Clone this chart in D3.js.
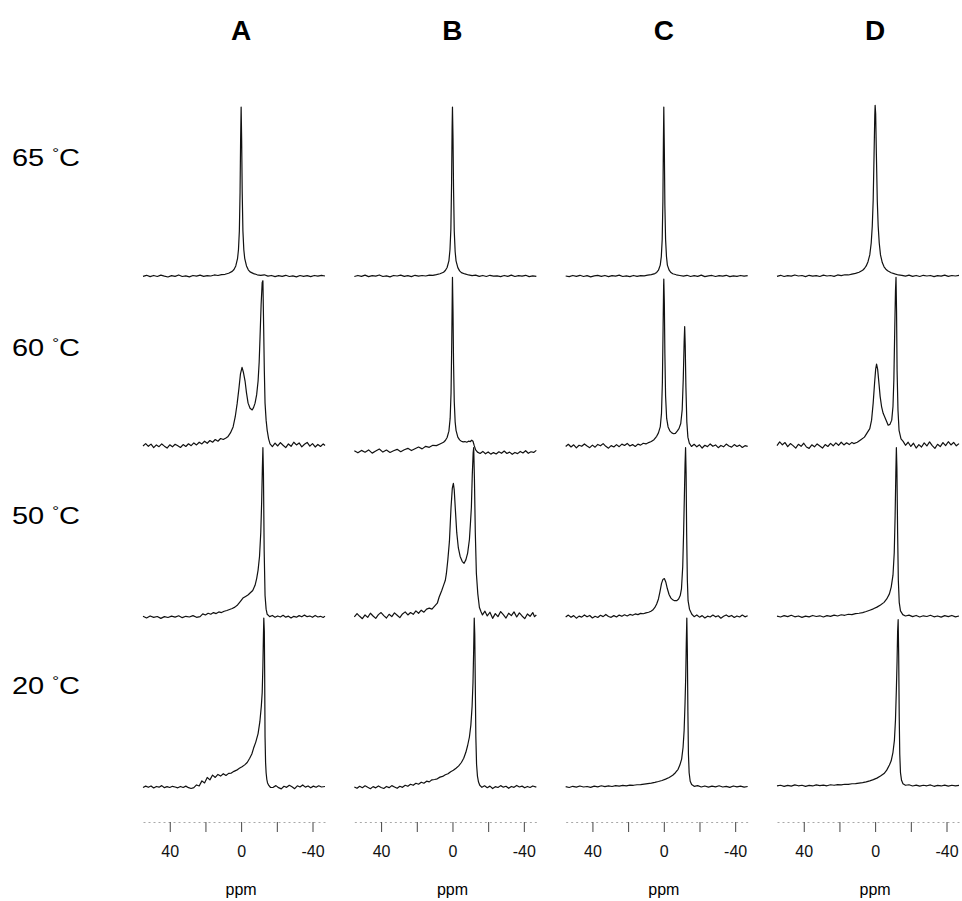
<!DOCTYPE html>
<html>
<head>
<meta charset="utf-8">
<script src="https://cdn.jsdelivr.net/npm/d3@7"></script>
<style>
  body { margin: 0; background: #fff; }
  svg { display: block; }
</style>
</head>
<body>
<div id="chart"></div>
<script>
// panels and temperatures
const panels = ["A", "B", "C", "D"];
const temps = ["65", "60", "50", "20"];
const tickVals = [40, 20, 0, -20, -40];
const tickLabels = [40, 0, -40];

// spectra: [ppm, intensity]  (100 = tallest peak)
const specA65 = [[55,0.4],[53,1.0],[51,0.2],[49,0.9],[47,0.3],[45,1.1],[43,0.5],[41,0.0],[39,0.8],[37,0.4],[35,1.2],[33,0.3],[31,0.7],[29,0.1],[27,0.9],[25,0.5],[23,1.1],[21,0.4],[19,0.8],[17,0.6],[15,1.2],[13,0.9],[11,1.4],[9,1.6],[7,2.2],[5,3.3],[4,4.4],[3,6.5],[2,11],[1.5,16],[1,27],[0.6,50],[0.3,80],[0,100],[-0.3,80],[-0.6,50],[-1,27],[-1.5,16],[-2,11],[-3,6.5],[-4,4.2],[-5,3.0],[-7,2.0],[-9,1.3],[-11,1.0],[-13,1.3],[-15,0.5],[-17,0.9],[-19,0.2],[-21,0.8],[-23,0.4],[-25,1.0],[-27,0.3],[-29,0.7],[-31,0.1],[-33,0.9],[-35,0.4],[-37,0.8],[-39,0.2],[-41,0.9],[-43,0.5],[-45,1.0],[-47,0.6]];
const specB65 = [[55,0.3],[53,0.9],[51,0.4],[49,1.1],[47,0.2],[45,0.8],[43,0.5],[41,1.2],[39,0.3],[37,0.7],[35,0.1],[33,0.9],[31,0.6],[29,1.1],[27,0.4],[25,0.8],[23,0.2],[21,1.0],[19,0.5],[17,0.9],[15,0.6],[13,1.1],[11,1.0],[9,1.4],[7,1.9],[5,2.8],[4,3.8],[3,5.6],[2,9.5],[1.4,16],[0.9,28],[0.5,55],[0.2,88],[0,100],[-0.3,82],[-0.6,52],[-1,27],[-1.5,15],[-2,9.5],[-3,5.5],[-4,3.6],[-5,2.6],[-7,1.8],[-9,1.2],[-11,0.8],[-13,1.1],[-15,0.4],[-17,0.9],[-19,0.3],[-21,1.0],[-23,0.5],[-25,0.7],[-27,0.2],[-29,0.9],[-31,0.4],[-33,1.1],[-35,0.3],[-37,0.8],[-39,0.5],[-41,1.0],[-43,0.2],[-45,0.7],[-47,0.4]];
const specC65 = [[55,0.6],[53,0.2],[51,0.9],[49,0.4],[47,1.0],[45,0.3],[43,0.8],[41,0.1],[39,0.7],[37,1.0],[35,0.4],[33,0.9],[31,0.2],[29,0.8],[27,0.5],[25,1.1],[23,0.3],[21,0.7],[19,0.2],[17,0.9],[15,0.4],[13,0.8],[11,0.7],[9,1.1],[7,1.4],[5,2.0],[4,2.7],[3,4.0],[2,7],[1.4,12],[0.9,22],[0.5,45],[0.2,82],[0,100],[-0.3,75],[-0.6,42],[-1,22],[-1.5,12],[-2,7],[-3,4],[-4,2.6],[-5,1.9],[-7,1.3],[-9,0.9],[-11,0.5],[-13,1.0],[-15,0.3],[-17,0.8],[-19,0.4],[-21,1.1],[-23,0.2],[-25,0.7],[-27,0.9],[-29,0.3],[-31,0.8],[-33,0.5],[-35,1.0],[-37,0.2],[-39,0.7],[-41,0.4],[-43,0.9],[-45,0.5],[-47,0.8]];
const specD65 = [[55,0.4],[53,1.0],[51,0.3],[49,0.8],[47,0.5],[45,1.2],[43,0.6],[41,0.9],[39,0.2],[37,1.0],[35,0.5],[33,0.8],[31,0.3],[29,1.1],[27,0.6],[25,0.9],[23,0.4],[21,1.2],[19,0.8],[17,1.3],[15,1.2],[13,1.7],[11,2.1],[9,2.8],[7,4],[6,5],[5,6.5],[4,9],[3,13],[2.2,20],[1.6,30],[1.1,45],[0.6,72],[0.2,95],[0,101],[-0.3,96],[-0.7,72],[-1.2,45],[-1.7,30],[-2.3,20],[-3,13],[-4,8.5],[-5,6],[-6,4.6],[-7,3.7],[-9,2.5],[-11,1.8],[-13,1.2],[-15,1.0],[-17,0.5],[-19,1.1],[-21,0.4],[-23,0.9],[-25,0.3],[-27,1.0],[-29,0.6],[-31,0.9],[-33,0.2],[-35,0.8],[-37,0.5],[-39,1.1],[-41,0.4],[-43,0.9],[-45,0.6],[-47,1.0]];

const specA60 = [[55,0.8],[53.5,2.2],[52,0.6],[50.5,1.9],[49,-0.2],[47.5,1.4],[46,0.4],[44.5,2.0],[43,0.7],[41.5,-0.4],[40,1.5],[38.5,0.3],[37,1.8],[35.5,0.9],[34,-0.1],[32.5,1.6],[31,0.5],[29.5,2.1],[28,1.0],[26.5,2.6],[25,1.4],[23.5,3.0],[22,2.0],[20.5,3.6],[19,2.4],[17.5,4.0],[16,3.0],[14.5,4.6],[13,3.6],[11.5,5.2],[10,4.6],[8.5,5.5],[7.5,6.2],[6,8.5],[4.5,12],[3.3,18],[2.2,26],[1.2,35],[0.4,43],[-0.5,47],[-1.3,44],[-2.2,39],[-3,32],[-3.9,26],[-5,23],[-6.2,22],[-7,23.5],[-7.8,26],[-8.7,31],[-9.5,39],[-10.1,50],[-10.6,65],[-11.2,84],[-11.8,97],[-12.2,98],[-12.6,72],[-13,45],[-13.4,26],[-14,16],[-14.6,10],[-15.4,5],[-16.2,2],[-17.5,0.4],[-19,2.5],[-20.5,0.8],[-22,2.8],[-23.5,1.2],[-25,-0.2],[-26.5,2.0],[-28,0.6],[-29.5,3.0],[-31,1.4],[-32.5,2.6],[-34,0.3],[-35.5,1.8],[-37,2.9],[-38.5,0.7],[-40,2.2],[-41.5,0.2],[-43,1.7],[-44.5,0.5],[-46,2.0],[-47,1.1]];
const specB60 = [[55,-2.0],[53,-3.2],[51,-1.8],[49,-2.9],[47,-1.5],[45,-3.4],[43,-2.2],[41,-1.0],[39,-2.8],[37,-1.6],[35,-3.0],[33,-2.0],[31,-1.2],[29,-2.6],[27,-1.4],[25,-0.6],[23,-1.9],[21,-0.8],[19,0.2],[17,-0.9],[15,0.6],[13,0.0],[11,1.2],[9,1.0],[7,2.0],[5,3.0],[4,4.0],[3,5.8],[2,9.5],[1.3,17],[0.8,32],[0.4,62],[0.1,92],[0,100],[-0.3,80],[-0.6,50],[-1,27],[-1.5,15],[-2,10],[-3,6],[-4,4.4],[-5,3.6],[-6,3.2],[-7,3.4],[-8,3.0],[-9,3.6],[-10,3.4],[-10.8,4.2],[-11.5,3.6],[-12.2,1.0],[-13,-1.5],[-14,-2.8],[-15.5,-3.6],[-17,-2.4],[-18.5,-3.8],[-20,-2.7],[-21.5,-4.0],[-23,-3.1],[-24.5,-3.9],[-26,-2.6],[-27.5,-3.5],[-29,-2.2],[-30.5,-3.6],[-32,-2.8],[-33.5,-4.1],[-35,-3.0],[-36.5,-3.7],[-38,-2.4],[-39.5,-3.3],[-41,-2.0],[-42.5,-3.5],[-44,-2.6],[-45.5,-3.0],[-47,-1.8]];
const specC60 = [[55,0.5],[53.5,1.8],[52,0.2],[50.5,1.5],[49,-0.3],[47.5,1.2],[46,0.6],[44.5,2.0],[43,0.8],[41.5,-0.2],[40,1.3],[38.5,0.1],[37,1.7],[35.5,0.9],[34,2.2],[32.5,0.6],[31,-0.5],[29.5,1.0],[28,0.2],[26.5,1.6],[25,0.4],[23.5,1.9],[22,1.1],[20.5,2.3],[19,0.8],[17.5,1.6],[16,0.5],[14.5,1.9],[13,1.3],[11.5,2.4],[10,2.0],[8.5,2.8],[7,3.4],[5.5,4.5],[4,6.5],[3,8.5],[2,12],[1.3,20],[0.8,38],[0.4,70],[0.1,95],[0,99],[-0.3,85],[-0.6,55],[-1,30],[-1.6,17],[-2.4,12],[-3.5,9.5],[-4.5,8.5],[-5.5,8],[-6.5,8.2],[-7.5,9.5],[-8.5,11],[-9.5,14],[-10.3,22],[-10.9,40],[-11.4,62],[-11.7,71],[-12,60],[-12.4,35],[-12.9,15],[-13.5,6],[-14.3,2.5],[-15.5,0.5],[-17,1.8],[-18.5,0.3],[-20,1.5],[-21.5,-0.4],[-23,1.2],[-24.5,0.4],[-26,2.0],[-27.5,0.6],[-29,1.4],[-30.5,-0.2],[-32,1.1],[-33.5,0.3],[-35,1.9],[-36.5,0.8],[-38,0.1],[-39.5,1.6],[-41,0.5],[-42.5,1.3],[-44,-0.1],[-45.5,1.0],[-47,0.6]];
const specD60 = [[55,1.0],[53.5,3.2],[52,1.5],[50.5,2.8],[49,0.4],[47.5,2.2],[46,1.0],[44.5,-0.5],[43,1.8],[41.5,0.6],[40,2.4],[38.5,0.2],[37,-0.6],[35.5,1.5],[34,0.3],[32.5,2.0],[31,0.8],[29.5,-0.4],[28,1.6],[26.5,0.5],[25,2.3],[23.5,0.9],[22,2.6],[20.5,1.2],[19,3.0],[17.5,1.4],[16,2.7],[14.5,1.6],[13,2.9],[12,2.2],[10,3.0],[8,4.5],[6,6],[4.5,8.5],[3,11],[2,16],[1.1,26],[0.3,38],[-0.3,46],[-0.8,49],[-1.4,46],[-2.2,37],[-2.8,30],[-3.6,24],[-4.5,20],[-5.5,17.5],[-6.5,15],[-7.3,13],[-8.3,13.5],[-9.3,16],[-10,24],[-10.5,40],[-11,70],[-11.4,92],[-11.7,100],[-12,80],[-12.3,45],[-12.8,22],[-13.4,10],[-14.5,5],[-15.7,3.5],[-17,1.2],[-18.5,3.0],[-20,0.5],[-21.5,2.4],[-23,-0.4],[-24.5,1.6],[-26,0.2],[-27.5,2.6],[-29,0.8],[-30.5,3.2],[-32,1.0],[-33.5,-0.6],[-35,1.8],[-36.5,0.4],[-38,2.8],[-39.5,1.0],[-41,3.3],[-42.5,1.4],[-44,2.9],[-45.5,0.9],[-47,2.2]];

const specA50 = [[55,0.8],[53,-0.2],[51,1.0],[49,0.2],[47,0.7],[45,-0.4],[43,0.6],[41,0.1],[39,0.9],[37,0.3],[35,1.1],[33,0.0],[31,0.8],[29,0.4],[27,1.2],[25,0.2],[23,0.6],[21.5,2.2],[20,1.6],[18.5,2.6],[17,2.0],[15.5,3.0],[14,2.4],[12.5,3.4],[11,3.0],[9.5,3.8],[8,4.2],[6.5,4.8],[5,5.4],[3.5,6.2],[2,7.5],[0.5,9.5],[-1,11.5],[-2.5,12.5],[-4,13.5],[-5,14.5],[-6.5,16],[-7.8,19],[-8.7,23],[-9.5,28],[-10.3,36],[-11,50],[-11.5,68],[-11.9,88],[-12.2,100],[-12.5,85],[-12.9,40],[-13.4,13],[-14,5],[-14.6,2],[-16,0.6],[-17.5,1.3],[-19,0.2],[-20.5,1.0],[-22,0.4],[-23.5,1.4],[-25,0.3],[-26.5,0.9],[-28,-0.2],[-29.5,0.8],[-31,0.3],[-32.5,1.2],[-34,0.5],[-35.5,1.5],[-37,0.6],[-38.5,1.0],[-40,0.2],[-41.5,1.3],[-43,0.4],[-44.5,0.8],[-46,0.1],[-47,0.9]];
const specB50 = [[55,0.5],[53.5,2.4],[52,0.8],[50.5,-0.6],[49,1.6],[47.5,0.2],[46,2.6],[44.5,1.0],[43,-0.4],[41.5,1.8],[40,3.0],[38.5,1.2],[37,-0.2],[35.5,2.0],[34,0.6],[32.5,2.8],[31,1.4],[29.5,0.0],[28,2.2],[26.5,3.4],[25,1.6],[23.5,3.0],[22,2.0],[20.5,4.0],[19,2.6],[17.5,4.4],[16,3.2],[14.5,5.0],[13,5.6],[11.5,5.0],[10,6.8],[8.5,8.5],[7.5,12],[6,16],[5,19],[4,22],[3.4,26],[2.6,34],[1.7,45],[0.8,65],[0.1,76],[-0.5,79],[-1,75],[-1.6,64],[-2.4,50],[-3.3,41],[-4.3,36],[-5.5,33],[-6.5,32],[-7.5,34],[-8.5,38],[-9.5,46],[-10.1,56],[-10.6,65],[-11.1,84],[-11.6,97],[-11.9,100],[-12.3,82],[-12.8,50],[-13.4,26],[-14.2,14],[-15.1,6],[-16,3.5],[-16.8,1.6],[-18.2,3.8],[-19.5,1.0],[-21,3.2],[-22.5,-0.4],[-24,2.4],[-25.5,0.6],[-27,3.6],[-28.5,1.8],[-30,-0.2],[-31.5,2.6],[-33,1.2],[-34.5,3.4],[-36,0.4],[-37.5,2.8],[-39,1.0],[-40.5,-0.6],[-42,2.2],[-43.5,0.8],[-45,3.0],[-46,0.6],[-47,1.6]];
const specC50 = [[55,0.4],[53.5,1.5],[52,0.2],[50.5,1.2],[49,-0.3],[47.5,0.9],[46,0.3],[44.5,1.6],[43,0.5],[41.5,1.3],[40,-0.2],[38.5,0.8],[37,0.1],[35.5,1.4],[34,0.6],[32.5,1.9],[31,0.7],[29.5,0.2],[28,1.2],[26.5,0.4],[25,1.5],[23.5,0.8],[22,1.7],[20.5,1.0],[19,1.9],[17.5,1.4],[16,2.2],[14.5,1.8],[13,2.5],[11.5,2.3],[10,2.8],[8.5,3.2],[7.2,3.8],[6.2,4.5],[5,6],[4,8],[3,11],[2.2,15],[1.3,20],[0.5,22.5],[-0.3,23],[-1.1,21],[-2,17],[-3,13.5],[-4,11.5],[-5,10.5],[-6,10],[-7.3,10],[-8.3,11],[-9.2,13],[-9.9,17],[-10.6,30],[-11.1,50],[-11.5,70],[-11.9,90],[-12.2,100],[-12.5,85],[-12.8,50],[-13.2,22],[-13.6,10],[-14.4,5],[-15.7,2],[-17,0.6],[-18.5,1.6],[-20,0.3],[-21.5,1.2],[-23,-0.2],[-24.5,0.9],[-26,0.4],[-27.5,1.5],[-29,0.5],[-30.5,1.1],[-32,-0.3],[-33.5,0.8],[-35,1.6],[-36.5,0.6],[-38,1.3],[-39.5,0.1],[-41,1.0],[-42.5,0.4],[-44,1.5],[-45.5,0.5],[-47,1.1]];
const specD50 = [[55,0.9],[53,0.4],[51,1.2],[49,0.6],[47,1.4],[45,0.5],[43,1.0],[41,0.2],[39,0.9],[37,0.5],[35,1.3],[33,0.7],[31,1.1],[29,0.4],[27,1.2],[25,0.8],[23,1.5],[21,1.0],[19,1.7],[17,1.4],[15,2.0],[13,1.8],[11,2.4],[9,2.6],[7,3.0],[5,3.6],[3,4.4],[1,5.2],[-1,6.2],[-3,7.5],[-5,9],[-6.5,11],[-8,14],[-9,18],[-10,25],[-10.7,38],[-11.2,60],[-11.6,85],[-11.9,100],[-12.2,88],[-12.6,50],[-13,22],[-13.5,9],[-14.2,4],[-15.5,1.8],[-17,1.0],[-19,1.5],[-21,0.6],[-23,1.3],[-25,0.4],[-27,1.1],[-29,0.7],[-31,1.4],[-33,0.5],[-35,1.0],[-37,0.3],[-39,1.2],[-41,0.6],[-43,1.3],[-45,0.5],[-47,1.0]];

const specA20 = [[55,0.3],[53.5,1.1],[52,0.4],[50.5,1.2],[49,0.0],[47.5,0.9],[46,0.5],[44.5,1.4],[43,0.2],[41.5,0.8],[40,0.3],[38.5,1.0],[37,0.6],[35.5,0.1],[34,0.9],[32.5,0.3],[31,1.1],[29.5,0.2],[28,-0.3],[26.5,0.2],[25,1.8],[23.5,1.2],[22,4.2],[20.5,3.0],[19,6.2],[17.5,4.8],[16,7.6],[14.5,6.2],[13,8.0],[11.5,7.0],[10,8.4],[8.5,7.4],[7,8.6],[5.5,8.8],[4,9.8],[2.5,10.5],[1,11.6],[-0.5,12.5],[-2,13.6],[-3.4,15],[-4.8,17.5],[-6,20],[-7,23.5],[-8.2,27],[-9.5,32],[-10.5,39],[-11.3,48],[-11.8,56],[-12.2,72],[-12.5,90],[-12.7,100],[-13,92],[-13.2,65],[-13.4,30],[-13.7,15],[-14,9],[-14.4,5],[-14.8,3],[-15.5,1.5],[-16.5,0.3],[-18,0.4],[-19.5,1.4],[-21,0.2],[-22.5,-0.5],[-24,1.0],[-25.5,0.4],[-27,1.6],[-28.5,0.7],[-30,-0.4],[-31.5,1.3],[-33,0.6],[-34.5,1.8],[-36,0.5],[-37.5,1.2],[-39,0.1],[-40.5,1.1],[-42,0.4],[-43.5,1.3],[-45,0.6],[-47,0.9]];
const specB20 = [[55,0.6],[53.5,-0.2],[52,1.0],[50.5,0.2],[49,1.3],[47.5,0.4],[46,-0.4],[44.5,0.8],[43,0.1],[41.5,1.2],[40,0.3],[38.5,-0.3],[37,0.9],[35.5,0.2],[34,1.4],[32.5,0.6],[31,-0.2],[29.5,1.0],[28,0.4],[26.5,1.6],[25,1.0],[23.5,2.2],[22,1.6],[20.5,2.8],[19,2.2],[17.5,3.4],[16,2.8],[14.5,4.0],[13,3.6],[11.5,4.8],[10,5.0],[8.5,5.4],[7,6.4],[5.5,6.8],[4,7.8],[2.5,8.4],[1,9.6],[-0.5,10.4],[-2,11.6],[-3.5,13],[-5,15],[-6.3,17.5],[-7.5,21],[-8.5,25],[-9.5,30],[-10.3,37],[-11,48],[-11.5,62],[-11.9,82],[-12.2,100],[-12.5,90],[-12.8,60],[-13.1,30],[-13.5,14],[-14,7],[-14.6,3.5],[-15.3,1.6],[-16.5,0.4],[-18,1.3],[-19.5,0.2],[-21,1.1],[-22.5,-0.3],[-24,0.8],[-25.5,0.3],[-27,1.4],[-28.5,0.5],[-30,1.0],[-31.5,-0.2],[-33,0.9],[-34.5,0.4],[-36,1.5],[-37.5,0.6],[-39,1.1],[-40.5,0.1],[-42,0.9],[-43.5,0.3],[-45,1.2],[-47,0.5]];
const specC20 = [[55,0.8],[53,0.3],[51,1.0],[49,0.5],[47,1.2],[45,0.6],[43,0.9],[41,0.4],[39,1.1],[37,0.7],[35,1.3],[33,0.8],[31,1.2],[29,0.9],[27,1.4],[25,1.1],[23,1.5],[21,1.3],[19,1.7],[17,1.6],[15,1.9],[13,2.0],[11,2.3],[9,2.6],[7,2.9],[5,3.3],[3,3.8],[1,4.4],[-1,5.2],[-3,6.2],[-5,7.5],[-6.5,9],[-8,11],[-9,13.5],[-10,17],[-10.8,24],[-11.4,34],[-11.9,50],[-12.3,66],[-12.6,85],[-12.9,100],[-13.2,80],[-13.5,45],[-13.8,20],[-14.2,9],[-14.8,4],[-15.6,2],[-17,1.0],[-19,1.4],[-21,0.6],[-23,1.2],[-25,0.5],[-27,1.1],[-29,0.7],[-31,1.3],[-33,0.6],[-35,1.0],[-37,0.4],[-39,1.2],[-41,0.7],[-43,1.1],[-45,0.5],[-47,0.9]];
const specD20 = [[55,1.2],[53,1.6],[51,1.0],[49,1.5],[47,1.1],[45,1.8],[43,1.3],[41,1.6],[39,1.0],[37,1.5],[35,1.2],[33,1.8],[31,1.4],[29,1.7],[27,1.3],[25,1.9],[23,1.6],[21,2.0],[19,1.8],[17,2.2],[15,2.1],[13,2.5],[11,2.6],[9,2.9],[7,3.2],[5,3.6],[3,4.2],[1,4.9],[-1,5.8],[-3,7],[-5,8.5],[-6.5,10.5],[-8,13.5],[-9,16],[-10,21],[-10.8,28],[-11.4,40],[-11.9,58],[-12.3,75],[-12.6,92],[-12.9,99],[-13.2,78],[-13.5,42],[-13.8,20],[-14.2,9],[-14.8,4.5],[-15.6,2.5],[-17,1.6],[-19,1.9],[-21,1.2],[-23,1.7],[-25,1.1],[-27,1.6],[-29,1.3],[-31,1.8],[-33,1.0],[-35,1.5],[-37,1.2],[-39,1.7],[-41,1.1],[-43,1.6],[-45,1.3],[-47,1.5]];

// rows of the grid (same order as temps), columns follow panels
const spectraRows = [
  [specA65, specB65, specC65, specD65],
  [specA60, specB60, specC60, specD60],
  [specA50, specB50, specC50, specD50],
  [specA20, specB20, specC20, specD20]
];

const width = 962, height = 901;
const font = "'Liberation Sans', Arial, Helvetica, sans-serif";

const svg = d3.select("#chart")
  .append("svg")
  .attr("width", width)
  .attr("height", height);

// where each panel column and each temperature row sits
const colX = d3.scalePoint().domain(panels).range([143, 777]);
const rowY = d3.scalePoint().domain(temps).range([277, 788]);

// ppm scale inside one panel (reversed, as in NMR)
const x = d3.scaleLinear().domain([55, -47]).range([0, 182]);
// intensity scale (relative to the row baseline)
const y = d3.scaleLinear().domain([0, 100]).range([0, -170]);

const line = d3.line()
  .x(function (d) { return x(d[0]); })
  .y(function (d) { return y(d[1]); });

// draw the spectra
spectraRows.forEach(function (row, ri) {
  row.forEach(function (spec, ci) {
    svg.append("path")
      .datum(spec)
      .attr("transform", "translate(" + colX(panels[ci]) + "," + rowY(temps[ri]) + ")")
      .attr("d", line)
      .attr("fill", "none")
      .attr("stroke", "#111")
      .attr("stroke-width", 1.2)
      .attr("stroke-linejoin", "round");
  });
});

// column titles
svg.selectAll(".col-title")
  .data(panels)
  .enter().append("text")
  .attr("class", "col-title")
  .attr("x", function (d) { return colX(d) + x(0); })
  .attr("y", 40)
  .attr("text-anchor", "middle")
  .style("font-family", font)
  .style("font-weight", "bold")
  .style("font-size", "28px")
  .text(function (d) { return d; });

// temperature labels (the top one sits a bit higher in the figure)
const labelShift = [-111, -91, -94, -94];
const rowLabel = svg.selectAll(".row-label")
  .data(temps)
  .enter().append("text")
  .attr("class", "row-label")
  .attr("x", 12)
  .attr("y", function (d, i) { return rowY(d) + labelShift[i]; })
  .attr("textLength", 68)
  .attr("lengthAdjust", "spacingAndGlyphs")
  .style("font-family", font)
  .style("font-size", "24px");
rowLabel.append("tspan").text(function (d) { return d + " "; });
rowLabel.append("tspan").attr("dy", -8).style("font-size", "14px").text("°");
rowLabel.append("tspan").attr("dy", 8).text("C");

// ppm axes
panels.forEach(function (p) {
  const g = svg.append("g")
    .attr("transform", "translate(" + colX(p) + ",822)")
    .call(d3.axisBottom(x)
      .tickValues(tickVals)
      .tickFormat(function (d) { return tickLabels.indexOf(d) >= 0 ? String(d) : ""; })
      .tickSize(10)
      .tickSizeOuter(0)
      .tickPadding(14));
  g.select(".domain")
    .attr("stroke", "#a8a8a8")
    .attr("stroke-dasharray", "2,3");
  g.selectAll(".tick line").attr("stroke", "#444");
  g.selectAll(".tick text")
    .attr("fill", "#111")
    .style("font-family", font)
    .style("font-size", "16px");

  svg.append("text")
    .attr("x", colX(p) + x(0))
    .attr("y", 895)
    .attr("text-anchor", "middle")
    .style("font-family", font)
    .style("font-size", "16px")
    .text("ppm");
});
</script>
</body>
</html>
